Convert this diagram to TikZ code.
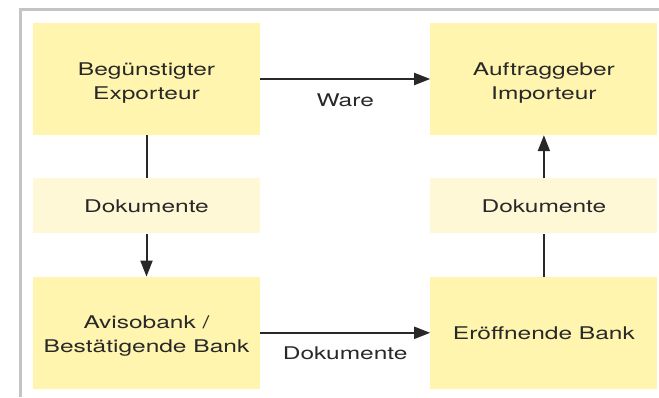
\documentclass[tikz,border=0pt]{standalone}
\usepackage{fontspec}
\setmainfont{TeX Gyre Heros}[FakeStretch=1.4]
\usetikzlibrary{positioning,arrows.meta}
\definecolor{boxyellow}{RGB}{255,245,174}
\definecolor{docyellow}{RGB}{255,248,214}
\definecolor{linegray}{RGB}{40,40,40}
\definecolor{framegray}{RGB}{196,196,200}

\begin{document}
\begin{tikzpicture}[x=1pt, y=1pt, node distance=43pt and 170pt,
  party/.style={fill=boxyellow, minimum width=227pt, minimum height=112pt, inner sep=0pt, align=center, text=linegray, font=\fontsize{17.5}{24}\selectfont},
  twoline/.style={text height=44pt},
  docs/.style={fill=docyellow, minimum width=227pt, minimum height=55pt, inner sep=0pt, align=center, text=linegray, font=\fontsize{17.5}{24}\selectfont},
  link/.style={draw=linegray, line width=2pt},
  flow/.style={link, -{Triangle[length=16pt, width=12pt]}},
  flowlabel/.style={below=14pt, inner sep=0pt, text height=12pt, text=linegray, font=\fontsize{17.5}{24}\selectfont}
]
\useasboundingbox (0,0) rectangle (659,-397);
\draw[framegray, line width=3pt] (20,-397) -- (20,-9) -- (659,-9);
\node[party, twoline] (exp) at (146.5,-79) {Begünstigter\\Exporteur};
\node[docs, below=of exp] (docL) {Dokumente};
\node[party, twoline, below=of docL] (avis) {Avisobank /\\Bestätigende Bank};
\node[party, twoline, right=of exp] (imp) {Auftraggeber\\Importeur};
\node[docs, below=of imp] (docR) {Dokumente};
\node[party, below=of docR] (eroeff) {Eröffnende Bank};
\draw[flow] (exp) -- node[flowlabel] {Ware} (imp);
\draw[link] (exp) -- (docL);
\draw[flow] (docL) -- (avis);
\draw[flow] (avis) -- node[flowlabel] {Dokumente} (eroeff);
\draw[link] (eroeff) -- (docR);
\draw[flow] (docR) -- (imp);
\end{tikzpicture}
\end{document}
